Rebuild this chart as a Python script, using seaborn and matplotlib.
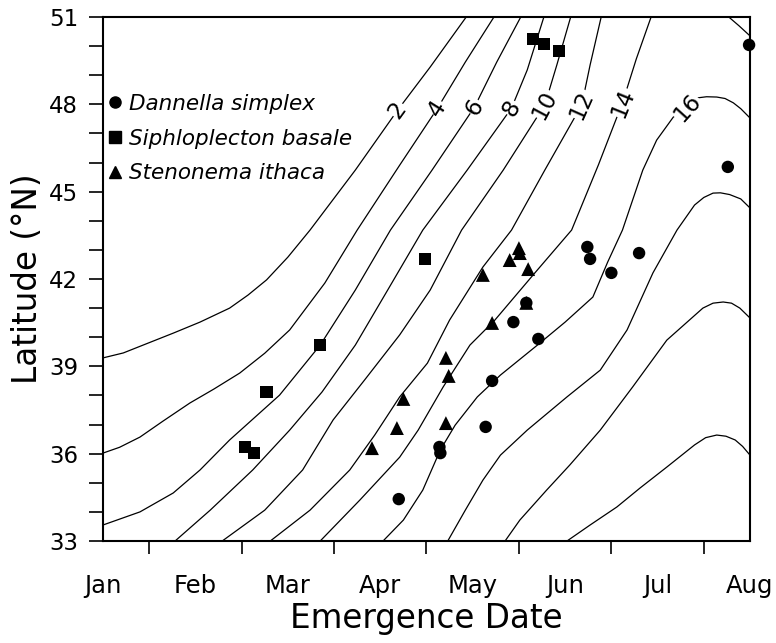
import pandas as pd
import matplotlib
matplotlib.use("Agg")
import matplotlib.pyplot as plt
from matplotlib.lines import Line2D
import seaborn as sns

months = ["Jan", "Feb", "Mar", "Apr", "May", "Jun", "Jul", "Aug"]

# emergence date (months after 1 Jan) and latitude (deg N)
dannella_date = [6.99, 6.76, 3.20, 3.64, 3.65, 4.14, 4.21, 4.44, 4.58, 4.71, 5.24, 5.27, 5.50, 5.80]
dannella_lat = [50.04, 45.85, 34.44, 36.23, 36.02, 36.92, 38.50, 40.52, 41.18, 39.94, 43.10, 42.69, 42.21, 42.89]
siphlo_date = [1.54, 1.63, 1.77, 2.35, 3.48, 4.65, 4.77, 4.93]
siphlo_lat = [36.23, 36.02, 38.12, 39.73, 42.69, 50.24, 50.07, 49.83]
stenonema_date = [2.91, 3.18, 3.25, 3.71, 3.74, 3.71, 4.11, 4.21, 4.40, 4.50, 4.51, 4.60, 4.58]
stenonema_lat = [36.19, 36.88, 37.88, 39.29, 38.67, 37.05, 42.14, 40.49, 42.65, 43.06, 42.89, 42.34, 41.18]

# isotherm traces (date, latitude)
iso_2 = [(3.93, 51.0), (3.54, 49.28), (3.19, 47.81), (2.73, 45.74), (2.24, 43.68), (2.00, 42.75),
         (1.77, 41.97), (1.57, 41.45), (1.37, 41.00), (1.05, 40.52), (0.76, 40.14), (0.45, 39.75),
         (0.22, 39.46), (0.0, 39.29)]
iso_4 = [(4.23, 51.0), (3.92, 49.45), (3.62, 47.87), (3.21, 45.91), (2.75, 43.68), (2.40, 41.86),
         (2.02, 40.25), (1.75, 39.45), (1.48, 38.77), (1.20, 38.22), (0.94, 37.74), (0.65, 37.12),
         (0.40, 36.57), (0.18, 36.22), (0.0, 36.02)]
iso_6 = [(4.52, 51.0), (4.26, 49.45), (4.02, 47.91), (3.56, 45.74), (3.11, 43.68), (2.73, 41.62),
         (2.35, 39.73), (1.91, 38.01), (1.37, 36.47), (1.05, 35.44), (0.76, 34.65), (0.40, 34.00), (0.0, 33.55)]
iso_8 = [(4.77, 51.0), (4.59, 49.18), (4.42, 47.87), (3.94, 45.74), (3.46, 43.68), (3.08, 41.62),
         (2.73, 39.73), (2.37, 38.12), (2.02, 36.81), (1.62, 35.44), (1.16, 34.06), (0.78, 33.0)]
iso_10 = [(5.06, 51.0), (4.91, 49.35), (4.78, 47.98), (4.33, 45.74), (3.88, 43.68), (3.54, 41.62),
          (3.21, 40.08), (2.83, 38.53), (2.49, 37.16), (2.16, 35.44), (1.75, 34.06), (1.29, 33.0)]
iso_12 = [(5.39, 51.0), (5.27, 49.35), (5.18, 47.98), (4.78, 45.74), (4.42, 43.68), (4.11, 42.41),
          (3.75, 40.59), (3.51, 39.11), (3.21, 37.95), (2.94, 36.64), (2.67, 35.44), (2.24, 34.06), (1.81, 33.0)]
iso_14 = [(5.93, 51.0), (5.77, 49.56), (5.62, 48.05), (5.36, 45.92), (5.07, 43.68), (4.67, 42.20),
          (4.24, 40.59), (3.97, 39.73), (3.68, 38.29), (3.41, 36.81), (3.21, 35.88), (2.78, 34.41), (2.35, 33.0)]
iso_16 = [(7.0, 47.53), (6.90, 47.85), (6.82, 48.05), (6.73, 48.20), (6.64, 48.25), (6.53, 48.26),
          (6.43, 48.22), (6.32, 47.87), (6.17, 47.56), (5.99, 46.77), (5.84, 45.74), (5.73, 44.71),
          (5.62, 43.68), (5.46, 42.58), (5.30, 41.38), (5.00, 40.52), (4.70, 39.73), (4.30, 38.70),
          (4.05, 37.95), (3.81, 36.98), (3.65, 36.13), (3.46, 34.75), (3.25, 33.72), (3.03, 33.0)]
iso_16b = [(6.77, 51.0), (6.88, 50.70), (7.0, 50.35)]
iso_18 = [(7.0, 44.44), (6.90, 44.75), (6.78, 44.90), (6.68, 44.96), (6.60, 44.95), (6.50, 44.80),
          (6.40, 44.54), (6.21, 43.68), (5.95, 42.21), (5.67, 40.25), (5.38, 38.87), (5.02, 37.95),
          (4.59, 36.81), (4.30, 35.95), (4.11, 35.09), (3.92, 34.06), (3.73, 33.0)]
iso_20 = [(7.0, 40.66), (6.89, 41.00), (6.80, 41.17), (6.71, 41.21), (6.60, 41.17), (6.49, 41.00),
          (6.10, 39.90), (5.73, 38.29), (5.38, 36.81), (5.05, 35.61), (4.80, 34.75), (4.51, 33.72), (4.35, 33.0)]
iso_22 = [(7.0, 35.95), (6.92, 36.25), (6.84, 36.47), (6.74, 36.60), (6.64, 36.64), (6.52, 36.55),
          (6.40, 36.30), (6.10, 35.54), (5.81, 34.82), (5.56, 34.17), (5.27, 33.55), (5.02, 33.0)]

label_text = ["2", "4", "6", "8", "10", "12", "14", "16"]
label_date = [3.19, 3.62, 4.02, 4.42, 4.78, 5.18, 5.62, 6.32]
label_lat = [47.81, 47.87, 47.91, 47.87, 47.98, 47.98, 48.05, 47.87]
label_angle = [54, 58, 59, 59, 62, 66, 68, 48]

sns.set_style("ticks")
plt.rcParams["font.family"] = ["DejaVu Sans"]
plt.rcParams.update({"text.color": "black", "axes.labelcolor": "black", "axes.edgecolor": "black",
                     "xtick.color": "black", "ytick.color": "black"})

fig = plt.figure(figsize=(7.76, 6.43), dpi=100)
ax = fig.add_axes([0.1327, 0.1586, 0.8338, 0.815])

isotherms = {"2": iso_2, "4": iso_4, "6": iso_6, "8": iso_8, "10": iso_10, "12": iso_12,
             "14": iso_14, "16": iso_16, "16b": iso_16b, "18": iso_18, "20": iso_20, "22": iso_22}
rows = [(lvl, d, l) for lvl, pts in isotherms.items() for d, l in pts]
iso_df = pd.DataFrame(rows, columns=["level", "date", "lat"])
sns.lineplot(data=iso_df, x="date", y="lat", units="level", estimator=None, sort=False,
             color="black", linewidth=0.9, legend=False, ax=ax)

for txt, d, l, a in zip(label_text, label_date, label_lat, label_angle):
    ax.text(d, l, txt, rotation=a, ha="center", va="center", fontsize=16.5, zorder=3,
            bbox=dict(facecolor="white", edgecolor="none", pad=0.3))

species = [("Dannella simplex", dannella_date, dannella_lat, "o", 80),
           ("Siphloplecton basale", siphlo_date, siphlo_lat, "s", 78),
           ("Stenonema ithaca", stenonema_date, stenonema_lat, "^", 100)]
for name, dates, lats, mk, size in species:
    pts = pd.DataFrame({"date": dates, "lat": lats})
    sns.scatterplot(data=pts, x="date", y="lat", marker=mk, s=size, color="black",
                    edgecolor="none", linewidth=0, zorder=4, clip_on=False, ax=ax)

handles = [Line2D([], [], marker=mk, ls="none", color="black", markersize=8)
           for _, _, _, mk, _ in species]
ax.legend(handles, [s[0] for s in species], loc="upper left", bbox_to_anchor=(0.008, 0.853),
          frameon=False, handlelength=0.6, handletextpad=0.35, borderaxespad=0, borderpad=0,
          labelspacing=0.68, prop={"style": "italic", "size": 15.5})

ax.set_xlim(0, 7)
ax.set_ylim(33, 51)
ax.set_xticks(range(8))
ax.set_xticklabels(months)
ax.set_xticks([i + 0.5 for i in range(7)], minor=True)
ax.tick_params(axis="x", which="major", length=0, pad=24, labelsize=17.5)
ax.tick_params(axis="x", which="minor", length=9, width=1.2)
ax.set_yticks(range(33, 52, 3))
ax.set_yticks(range(33, 52), minor=True)
ax.tick_params(axis="y", which="both", length=10, width=1.2)
ax.tick_params(axis="y", which="major", pad=8, labelsize=16.5)

for sp in ax.spines.values():
    sp.set_linewidth(1.5)
    sp.set_visible(True)

ax.set_xlabel("Emergence Date", fontsize=23.5)
ax.set_ylabel("Latitude (\u00b0N)", fontsize=23.5)
ax.xaxis.set_label_coords(0.5, -0.117)
ax.yaxis.set_label_coords(-0.091, 0.5)

fig.savefig("out.png", dpi=100)
